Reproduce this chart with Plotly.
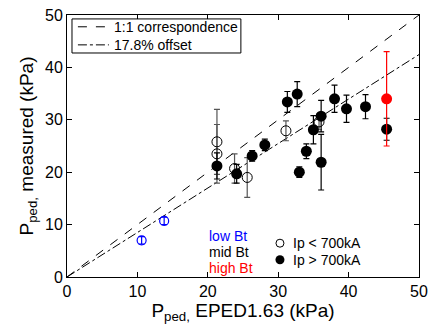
import plotly.graph_objects as go

# Data (kPa)
low_open_x = [10.6, 13.8]
low_open_y = [7.0, 10.7]
low_open_err = [0.7, 0.7]

mid_open_x = [21.3, 21.3, 23.8, 25.6, 31.1, 35.8]
mid_open_y = [25.8, 23.5, 20.7, 19.0, 27.9, 29.6]
mid_open_err = [6.2, 5.6, 2.8, 3.8, 1.9, 1.5]

mid_fill_x = [21.3, 24.1, 26.3, 28.1, 31.3, 32.7, 33.0, 34.0, 35.0, 36.1, 36.1, 38.0, 39.7, 42.4, 45.4]
mid_fill_y = [21.2, 19.7, 23.1, 25.2, 33.4, 34.9, 20.0, 24.0, 28.1, 30.7, 21.9, 34.0, 32.1, 32.5, 28.2]
mid_fill_err = [2.5, 1.8, 1.0, 1.1, 2.0, 2.4, 1.0, 1.4, 2.7, 3.0, 5.3, 2.6, 2.6, 2.3, 2.1]

high_fill_x = [45.4]
high_fill_y = [34.0]
high_fill_err = [9.0]

line_x = [0, 50]
offset = 17.8  # percent
legend_labels = ["1:1 correspondence", f"{offset}% offset"]
tick_vals = [0, 10, 20, 30, 40, 50]

FONT = "Liberation Sans, Arial, Helvetica, sans-serif"

fig = go.Figure()

fig.add_trace(go.Scatter(x=line_x, y=line_x, mode="lines", name=legend_labels[0], showlegend=False,
                         line=dict(color="black", width=1, dash="dash")))
fig.add_trace(go.Scatter(x=line_x, y=[v / (1 + offset / 100) for v in line_x], mode="lines",
                         name=legend_labels[1], showlegend=False,
                         line=dict(color="black", width=1, dash="dashdot")))

fig.add_trace(go.Scatter(x=mid_open_x, y=mid_open_y, mode="markers", showlegend=False,
                         marker=dict(symbol="circle-open", size=10, color="black", line=dict(width=1)),
                         error_y=dict(type="data", array=mid_open_err, color="#555555", thickness=1.2, width=3)))
fig.add_trace(go.Scatter(x=mid_fill_x, y=mid_fill_y, mode="markers", showlegend=False,
                         marker=dict(symbol="circle", size=11, color="black"),
                         error_y=dict(type="data", array=mid_fill_err, color="black", thickness=1.2, width=3)))
fig.add_trace(go.Scatter(x=high_fill_x, y=high_fill_y, mode="markers", showlegend=False,
                         marker=dict(symbol="circle", size=11, color="red"),
                         error_y=dict(type="data", array=high_fill_err, color="red", thickness=1.2, width=3)))
fig.add_trace(go.Scatter(x=low_open_x, y=low_open_y, mode="markers", showlegend=False,
                         marker=dict(symbol="circle-open", size=9, color="blue", line=dict(width=1.2)),
                         error_y=dict(type="data", array=low_open_err, color="blue", thickness=1.2, width=3)))

# Line legend box (manual, top-left)
fig.add_shape(type="rect", xref="paper", yref="paper", x0=0.0142, x1=0.494, y0=0.855, y1=0.985,
              line=dict(color="black", width=1), fillcolor="white", layer="above")
for lab, dash, yy in [(legend_labels[0], "dash", 0.955), (legend_labels[1], "dashdot", 0.886)]:
    fig.add_shape(type="line", xref="paper", yref="paper", x0=0.031, x1=0.119, y0=yy, y1=yy,
                  line=dict(color="black", width=1, dash=dash), layer="above")
    fig.add_annotation(x=0.128, y=yy, xref="paper", yref="paper", text=lab, showarrow=False,
                       xanchor="left", yanchor="middle", font=dict(size=14, color="black", family=FONT))

# Text legend (colour key)
for txt, col, yy in [("low Bt", "blue", 0.158), ("mid Bt", "black", 0.094), ("high Bt", "red", 0.035)]:
    fig.add_annotation(x=0.398, y=yy, xref="paper", yref="paper", text=txt, showarrow=False,
                       xanchor="left", yanchor="middle", font=dict(size=14, color=col, family=FONT))

# Marker key
fig.add_trace(go.Scatter(x=[0.605], y=[0.129], xaxis="x2", yaxis="y2", mode="markers", showlegend=False,
                         marker=dict(symbol="circle-open", size=8, color="black", line=dict(width=1))))
fig.add_trace(go.Scatter(x=[0.605], y=[0.066], xaxis="x2", yaxis="y2", mode="markers", showlegend=False,
                         marker=dict(symbol="circle", size=9, color="black")))
for txt, yy in [("Ip &lt; 700kA", 0.129), ("Ip &gt; 700kA", 0.066)]:
    fig.add_annotation(x=0.636, y=yy, xref="paper", yref="paper", text=txt, showarrow=False,
                       xanchor="left", yanchor="middle", font=dict(size=14, color="black", family=FONT))

axis_common = dict(showline=True, linecolor="black", linewidth=1, mirror="ticks", ticks="inside",
                   ticklen=5, tickcolor="black", showgrid=False, zeroline=False, automargin=False,
                   tickfont=dict(size=16, color="black", family=FONT))

fig.update_layout(
    width=431, height=331,
    margin=dict(l=67, r=12, t=15, b=54),
    paper_bgcolor="white", plot_bgcolor="white",
    font=dict(family=FONT, color="black"),
    xaxis=dict(range=[0, 50], tickvals=tick_vals, **axis_common,
               title=dict(text="P<sub>ped,</sub> EPED1.63 (kPa)", font=dict(size=19), standoff=0)),
    yaxis=dict(range=[0, 50], tickvals=tick_vals, **axis_common,
               title=dict(text="P<sub>ped,</sub> measured (kPa)", font=dict(size=19), standoff=6)),
    xaxis2=dict(range=[0, 1], domain=[0, 1], visible=False, overlaying="x"),
    yaxis2=dict(range=[0, 1], domain=[0, 1], visible=False, overlaying="y"),
    showlegend=False,
)

fig.write_html("out.html", config={"displayModeBar": False},
               post_script="document.body.style.margin='0';document.body.style.padding='0';")
